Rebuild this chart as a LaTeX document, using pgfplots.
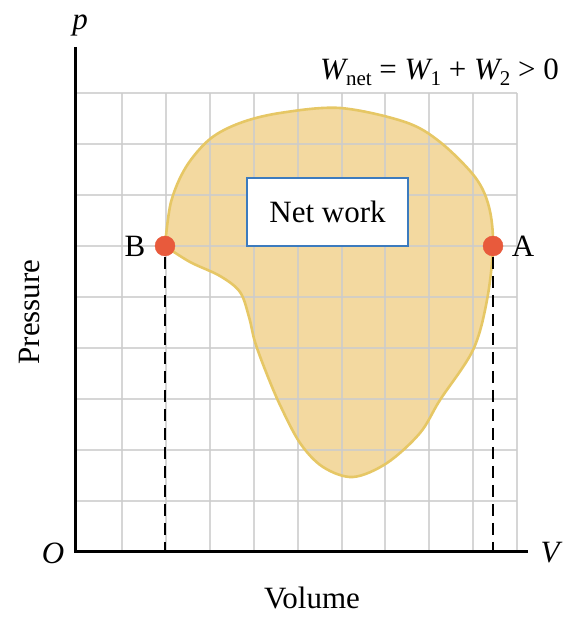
\documentclass[border=0pt]{standalone}
\usepackage{pgfplots}
\pgfplotsset{compat=1.18}
\usepackage{fontspec}
\setmainfont{Liberation Serif}
\definecolor{gridc}{HTML}{CCCCCC}
\definecolor{blobfill}{HTML}{F3D9A0}
\definecolor{blobline}{HTML}{E6C765}
\definecolor{dotc}{HTML}{E85A3C}
\definecolor{boxc}{HTML}{3C7BBE}
\newcommand{\sub}[1]{\raisebox{-0.4ex}{\fontsize{21}{21}\selectfont #1}}
\begin{document}
\fontsize{31}{36}\selectfont
\begin{tikzpicture}[lab/.style={font=\fontsize{31}{36}\selectfont, inner sep=0pt}]
\begin{axis}[x=1pt,y=1pt,xmin=0,xmax=562,ymin=0,ymax=617,
  axis lines=none, clip=false, scale only axis]
\addplot[draw=none] coordinates {(0,0) (562,617)};
% blob fill
\addplot[smooth, tension=0.55, fill=blobfill, draw=none] coordinates {
(165,371) (190,355) (220,341) (240,325) (249,300) (255,275) (266,245)
(280,212) (300,174) (323,150) (353,140) (387,154) (420,184) (440,217)
(473,267) (487,317) (493,371) (489,410) (475,440) (440,475) (405,495)
(340,509) (280,504) (240,494) (210,478) (186,450) (171,415) (165,371)};
% grid
\pgfplotsinvokeforeach{122,166,210,254,298,342,385,429,473,517}{
  \addplot[gridc, line width=1.6pt, opacity=0.8] coordinates {(#1,65) (#1,524)};}
\pgfplotsinvokeforeach{116,167,218,269,320,371,422,473,524}{
  \addplot[gridc, line width=1.6pt, opacity=0.8] coordinates {(75,#1) (517,#1)};}
% blob outline
\addplot[smooth, tension=0.55, draw=blobline, line width=2.6pt] coordinates {
(165,371) (190,355) (220,341) (240,325) (249,300) (255,275) (266,245)
(280,212) (300,174) (323,150) (353,140) (387,154) (420,184) (440,217)
(473,267) (487,317) (493,371) (489,410) (475,440) (440,475) (405,495)
(340,509) (280,504) (240,494) (210,478) (186,450) (171,415) (165,371)};
% dashed verticals
\addplot[black, line width=2.2pt, dash pattern=on 12pt off 7pt] coordinates {(165,360) (165,65)};
\addplot[black, line width=2.2pt, dash pattern=on 12pt off 7pt] coordinates {(493,360) (493,65)};
% axes
\addplot[black, line width=3pt] coordinates {(75,570) (75,65) (528,65)};
% box
\node[lab, draw=boxc, line width=2.8pt, fill=white, minimum width=161pt, minimum height=68pt]
  at (axis cs:327.5,405) {Net work};
% dots
\addplot[only marks, mark=*, mark size=10pt, color=dotc] coordinates {(165,371) (493,371)};
% labels
\node[lab] at (axis cs:135,371) {B};
\node[lab] at (axis cs:523,371) {A};
\node[lab, anchor=base] at (axis cs:80,587) {\itshape p};
\node[lab] at (axis cs:53,64) {\itshape O};
\node[lab] at (axis cs:550,64) {\itshape V};
\node[lab, anchor=base east] at (axis cs:559,537) {{\itshape W}\sub{net} = {\itshape W}\sub{1} + {\itshape W}\sub{2} {>} 0};
\node[lab] at (axis cs:312,19) {Volume};
\node[lab, rotate=90] at (axis cs:30,305) {Pressure};
\end{axis}
\end{tikzpicture}
\end{document}
